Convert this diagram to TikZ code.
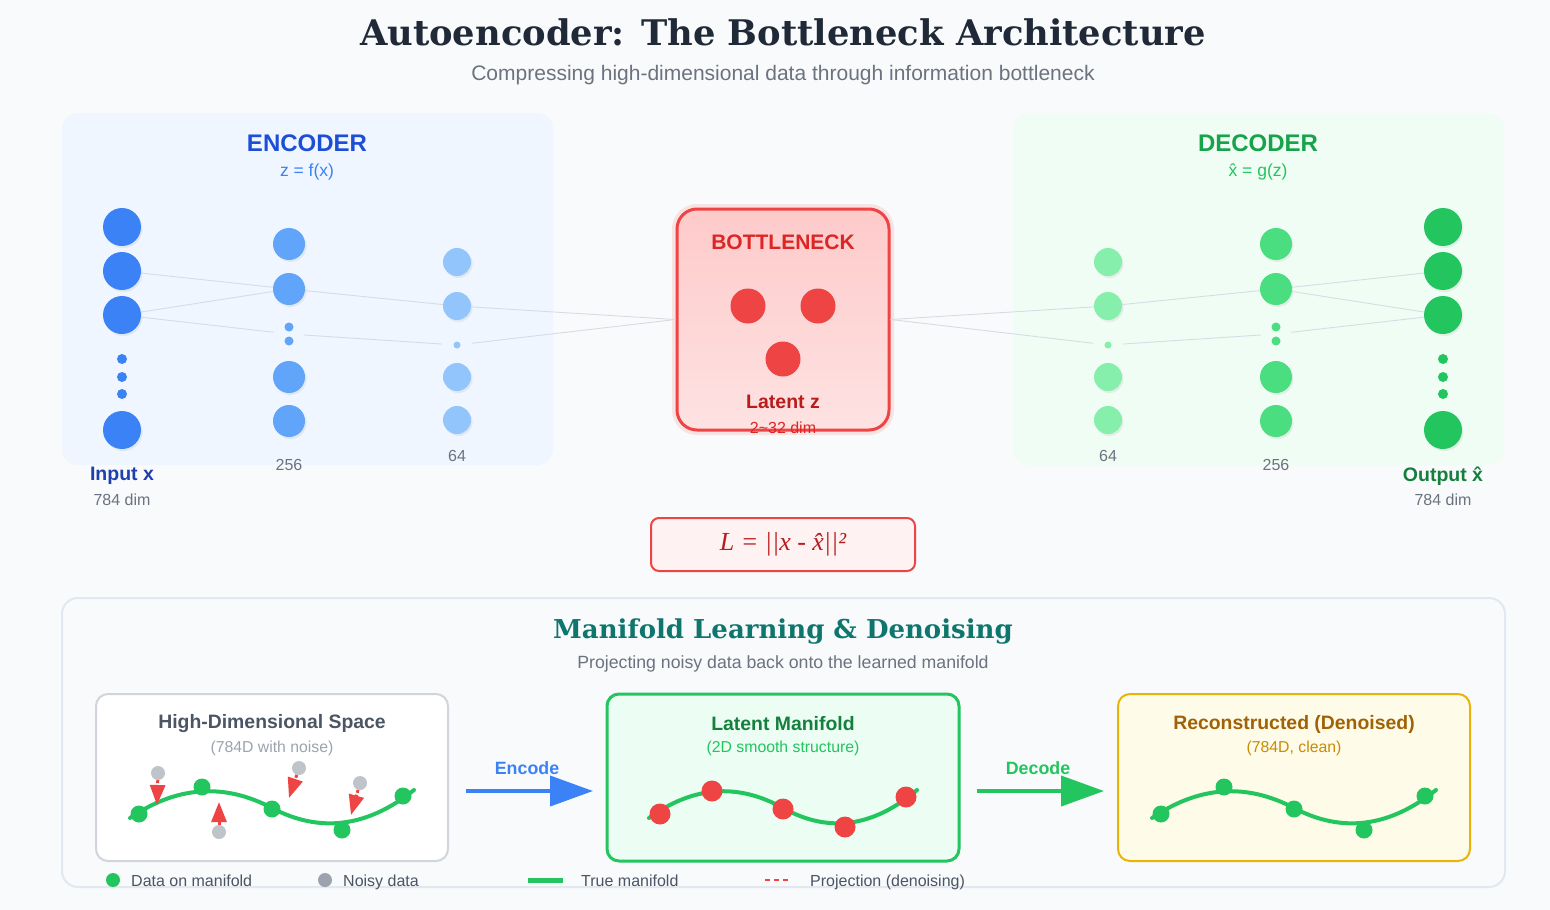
\documentclass[tikz,border=0pt]{standalone}
\usepackage{fontspec}
\setmainfont{Liberation Serif}
\setsansfont{Liberation Sans}
\newfontfamily\headfont{DejaVu Serif}
\renewcommand{\familydefault}{\sfdefault}
\usetikzlibrary{arrows.meta,positioning,shadows}

\definecolor{pagebg}{HTML}{F9FAFB}
\definecolor{ink}{HTML}{1F2937}
\definecolor{muted}{HTML}{6B7280}
\definecolor{wirecol}{HTML}{D5DCE6}
\definecolor{encbg}{HTML}{EFF6FF}
\definecolor{decbg}{HTML}{F0FDF4}
\definecolor{blueA}{HTML}{3B82F6}
\definecolor{blueB}{HTML}{60A5FA}
\definecolor{blueC}{HTML}{93C5FD}
\definecolor{blueD}{HTML}{1D4ED8}
\definecolor{blueE}{HTML}{1E40AF}
\definecolor{greenA}{HTML}{22C55E}
\definecolor{greenB}{HTML}{4ADE80}
\definecolor{greenC}{HTML}{86EFAC}
\definecolor{greenD}{HTML}{16A34A}
\definecolor{greenE}{HTML}{15803D}
\definecolor{redA}{HTML}{EF4444}
\definecolor{redD}{HTML}{DC2626}
\definecolor{redE}{HTML}{B91C1C}
\definecolor{redtop}{HTML}{FECACA}
\definecolor{redbot}{HTML}{FEE2E2}
\definecolor{lossbg}{HTML}{FEF2F2}
\definecolor{teal}{HTML}{0F766E}
\definecolor{slate}{HTML}{4B5563}
\definecolor{grayA}{HTML}{9CA3AF}
\definecolor{grayB}{HTML}{BFC3CA}
\definecolor{grayline}{HTML}{D1D5DB}
\definecolor{mpbg}{HTML}{F8FAFC}
\definecolor{mpline}{HTML}{E2E8F0}
\definecolor{mintbg}{HTML}{ECFDF3}
\definecolor{amberA}{HTML}{EAB308}
\definecolor{amberbg}{HTML}{FEFCE8}
\definecolor{amberC}{HTML}{CA8A04}
\definecolor{amberD}{HTML}{A16207}

\newcommand{\pxfont}[1]{\fontsize{#1}{#1}\selectfont}
\newcommand{\manifoldpath}{(130,818) .. controls (176.7,786) and (224,782.7) .. (272,808) .. controls (320,833.3) and (367.3,827.3) .. (414,790)}

\begin{document}
\begin{tikzpicture}[
  x=1pt,y=-1pt,
  panel/.style={rounded corners=16pt,minimum width=491pt,minimum height=352pt,inner sep=0pt},
  neuron/.style={circle,inner sep=0pt,minimum size=#1,drop shadow={shadow xshift=1.5pt,shadow yshift=-2pt,opacity=0.12}},
  pip/.style={circle,inner sep=0pt,minimum size=#1},
  dotgap/.style={inner sep=0pt,minimum width=30pt,minimum height=34pt},
  wire/.style={draw=wirecol,line width=0.9pt},
  card/.style={rounded corners=12pt,minimum width=352pt,minimum height=167pt,inner sep=0pt},
  cardtitle/.style={font=\bfseries\pxfont{19.4}},
  cardsub/.style={font=\pxfont{15.8}},
  curve/.style={greenA,line width=4pt,line cap=round},
  proj/.style={redA,line width=3pt,dash pattern=on 3pt off 2pt,-{Triangle[length=20pt,width=15pt]}},
  flow/.style={line width=4pt,-{Triangle[length=43pt,width=30pt]}},
  legend/.style={font=\pxfont{16},text=slate,inner sep=0pt,anchor=base west}
]
  \useasboundingbox (0,0) rectangle (1550,910);
  \fill[pagebg] (0,0) rectangle (1550,910);

  % header
  \node[font=\headfont\bfseries\pxfont{35.3},text=ink] (title) at (783,32) {Autoencoder: The Bottleneck Architecture};
  \node[font=\pxfont{21},text=muted] (subtitle) at (783,75) {Compressing high-dimensional data through information bottleneck};

  % encoder / decoder panels
  \node[panel,fill=encbg] (encp) at (307.5,289) {};
  \node[panel,fill=decbg] (decp) at (1258.5,289) {};
  \node[font=\bfseries\pxfont{24},text=blueD] (enctitle) at (307,143) {ENCODER};
  \node[font=\pxfont{17.5},text=blueA] (encfun) at (307,172) {z = f(x)};
  \node[font=\bfseries\pxfont{24},text=greenD] (dectitle) at (1258,143) {DECODER};
  \node[font=\pxfont{17.5},text=greenA] (decfun) at (1258,172) {\^x = g(z)};

  % encoder layers
  \foreach \n/\y in {1/227,2/271,3/315,4/430} \node[neuron=38pt,fill=blueA] (i\n) at (122,\y) {};
  \foreach \n/\y in {1/359,2/377,3/394} \node[pip=10pt,fill=blueA] (id\n) at (122,\y) {};
  \foreach \n/\y in {1/244,2/289,3/377,4/421} \node[neuron=32pt,fill=blueB] (a\n) at (289,\y) {};
  \node[dotgap] (ag) at (289,334) {};
  \node[pip=9pt,fill=blueB] (ad1) at (289,327) {};
  \node[pip=9pt,fill=blueB] (ad2) at (289,341) {};
  \foreach \n/\y in {1/262,2/306,3/377,4/420} \node[neuron=28pt,fill=blueC] (b\n) at (457,\y) {};
  \node[dotgap] (bg) at (457,345) {};
  \node[pip=7pt,fill=blueC] (bd) at (457,345) {};

  % decoder layers
  \foreach \n/\y in {1/262,2/306,3/377,4/420} \node[neuron=28pt,fill=greenC] (c\n) at (1108,\y) {};
  \node[dotgap] (cg) at (1108,345) {};
  \node[pip=7pt,fill=greenC] (cd) at (1108,345) {};
  \foreach \n/\y in {1/244,2/289,3/377,4/421} \node[neuron=32pt,fill=greenB] (d\n) at (1276,\y) {};
  \node[dotgap] (dg) at (1276,334) {};
  \node[pip=9pt,fill=greenB] (dd1) at (1276,327) {};
  \node[pip=9pt,fill=greenB] (dd2) at (1276,341) {};
  \foreach \n/\y in {1/227,2/271,3/315,4/430} \node[neuron=38pt,fill=greenA] (o\n) at (1443,\y) {};
  \foreach \n/\y in {1/359,2/377,3/394} \node[pip=10pt,fill=greenA] (od\n) at (1443,\y) {};

  % layer labels
  \node[font=\bfseries\pxfont{19.5},text=blueE] (inlbl) at (122,476) {Input x};
  \node[font=\pxfont{16},text=muted] (indim) at (122,500) {784 dim};
  \node[font=\pxfont{16},text=muted] (albl) at (289,465) {256};
  \node[font=\pxfont{16},text=muted] (blbl) at (457,456) {64};
  \node[font=\pxfont{16},text=muted] (clbl) at (1108,456) {64};
  \node[font=\pxfont{16},text=muted] (dlbl) at (1276,465) {256};
  \node[font=\bfseries\pxfont{19.5},text=greenE] (outlbl) at (1443,476) {Output \^x};
  \node[font=\pxfont{16},text=muted] (outdim) at (1443,500) {784 dim};

  % bottleneck
  \node[rounded corners=20pt,minimum width=212pt,minimum height=221pt,draw=redA,line width=3pt,
    top color=redtop,bottom color=redbot,
    preaction={draw=redA,opacity=0.12,line width=10pt}] (bn) at (783,319.5) {};
  \node[font=\bfseries\pxfont{21},text=redD] (bntitle) at (783,242) {BOTTLENECK};
  \node[pip=35pt,fill=redA] (z1) at (748,306) {};
  \node[pip=35pt,fill=redA] (z2) at (818,306) {};
  \node[pip=35pt,fill=redA] (z3) at (783,359) {};
  \node[font=\bfseries\pxfont{19.5},text=redE] (bnlbl) at (783,402) {Latent z};
  \node[font=\pxfont{16},text=redD] (bndim) at (783,428) {2\textasciitilde32 dim};

  % connections
  \draw[wire] (i2) -- (a2);
  \draw[wire] (i3) -- (a2);
  \draw[wire] (i3) -- (ag);
  \draw[wire] (a2) -- (b2);
  \draw[wire] (ag) -- (bg);
  \draw[wire] (b2) -- (bn.west);
  \draw[wire] (bg) -- (bn.west);
  \draw[wire] (bn.east) -- (c2);
  \draw[wire] (bn.east) -- (cg);
  \draw[wire] (c2) -- (d2);
  \draw[wire] (cg) -- (dg);
  \draw[wire] (d2) -- (o2);
  \draw[wire] (d2) -- (o3);
  \draw[wire] (dg) -- (o3);

  % loss
  \node[rounded corners=8pt,minimum width=264pt,minimum height=53pt,draw=redA,line width=2pt,fill=lossbg,
    font=\rmfamily\itshape\pxfont{26},text=redE] (loss) at (783,544.5) {L = ||x - \^x||²};

  % manifold section
  \node[rounded corners=16pt,minimum width=1443pt,minimum height=289pt,draw=mpline,line width=2pt,fill=mpbg] (mpanel) at (783.5,742.5) {};
  \node[font=\headfont\bfseries\pxfont{26},text=teal] (mtitle) at (783,632) {Manifold Learning \& Denoising};
  \node[font=\pxfont{17.7},text=muted] (msub) at (783,664) {Projecting noisy data back onto the learned manifold};

  \node[card,draw=grayline,line width=2pt,fill=white] (hd) at (272,777.5) {};
  \node[cardtitle,text=slate] (hdtitle) at (272,724) {High-Dimensional Space};
  \node[cardsub,text=grayA] (hdsub) at (272,748) {(784D with noise)};
  \node[card,draw=greenA,line width=3pt,fill=mintbg] (lm) at (783,777.5) {};
  \node[cardtitle,text=greenE] (lmtitle) at (783,724) {Latent Manifold};
  \node[cardsub,text=greenA] (lmsub) at (783,748) {(2D smooth structure)};
  \node[card,draw=amberA,line width=2pt,fill=amberbg] (rc) at (1294,777.5) {};
  \node[cardtitle,text=amberD] (rctitle) at (1294,724) {Reconstructed (Denoised)};
  \node[cardsub,text=amberC] (rcsub) at (1294,748) {(784D, clean)};

  % high-dimensional space: manifold, noisy points, projections
  \draw[curve] \manifoldpath;
  \foreach \n/\x/\y in {1/139/814,2/202/787,3/272/809,4/342/830,5/403/796} \node[pip=17pt,fill=greenA] (h\n) at (\x,\y) {};
  \foreach \n/\x/\y in {1/158/773,2/219/832,3/299/768,4/360/783} \node[pip=14pt,fill=grayB] (n\n) at (\x,\y) {};
  \coordinate (p1) at (157,805);
  \coordinate (p2) at (219,802);
  \coordinate (p3) at (289,798);
  \coordinate (p4) at (351,815);
  \foreach \n in {1,...,4} \draw[proj] (n\n) -- (p\n);

  % latent manifold
  \begin{scope}[shift={(783,0)},xscale=0.944,shift={(-272,0)}]
    \draw[curve] \manifoldpath;
  \end{scope}
  \foreach \n/\x/\y in {1/660/814,2/712/791,3/783/809,4/845/827,5/906/797} \node[pip=21pt,fill=redA] (l\n) at (\x,\y) {};

  % reconstructed
  \begin{scope}[xshift=1022pt]
    \draw[curve] \manifoldpath;
  \end{scope}
  \foreach \n/\x/\y in {1/1161/814,2/1224/787,3/1294/809,4/1364/830,5/1425/796} \node[pip=17pt,fill=greenA] (r\n) at (\x,\y) {};

  % encode / decode arrows
  \coordinate (encS) at (466,791);
  \coordinate (encE) at (593,791);
  \coordinate (decS) at (977,791);
  \coordinate (decE) at (1104,791);
  \draw[flow,blueA] (encS) -- (encE);
  \draw[flow,greenA] (decS) -- (decE);
  \node[font=\bfseries\pxfont{17.8},text=blueA] (enclbl) at (527,768) {Encode};
  \node[font=\bfseries\pxfont{17.8},text=greenA] (declbl) at (1038,768) {Decode};

  % legend
  \node[pip=14pt,fill=greenA] (lg1) at (113,880) {};
  \node[legend] (lg1t) at (131,886) {Data on manifold};
  \node[pip=14pt,fill=grayA] (lg2) at (325,880) {};
  \node[legend] (lg2t) at (343,886) {Noisy data};
  \coordinate (lg3a) at (528,880);
  \coordinate (lg3b) at (563,880);
  \draw[greenA,line width=5pt] (lg3a) -- (lg3b);
  \node[legend] (lg3t) at (581,886) {True manifold};
  \coordinate (lg4a) at (765,880);
  \coordinate (lg4b) at (789,880);
  \draw[redA,line width=2.5pt,dash pattern=on 5pt off 4pt] (lg4a) -- (lg4b);
  \node[legend] (lg4t) at (810,886) {Projection (denoising)};
\end{tikzpicture}
\end{document}
